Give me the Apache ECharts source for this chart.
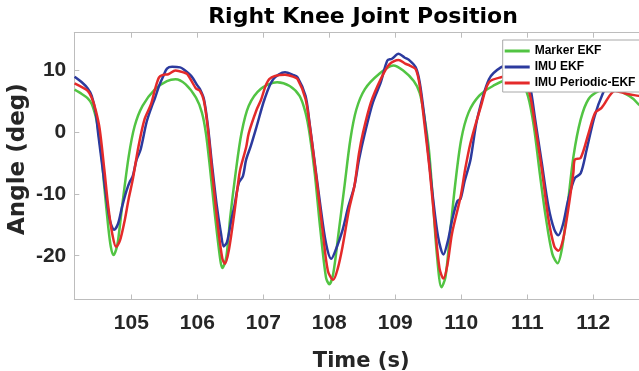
<!DOCTYPE html>
<html>
<head>
<meta charset="utf-8">
<script src="https://cdn.jsdelivr.net/npm/echarts@6/dist/echarts.min.js"></script>
<style>html,body{margin:0;padding:0;background:#fff}#c{width:639px;height:371px}</style>
</head>
<body>
<div id="c"></div>
<script>
// ---- data ----
const titleText = 'Right Knee Joint Position';
const xName = 'Time (s)';
const yName = 'Angle (deg)';
const seriesNames = ['Marker EKF', 'IMU EKF', 'IMU Periodic-EKF'];
const xRange = [104.136, 112.83];
const yRange = [-27.07, 16.0];

const markerT = [104.14,104.25,104.34,104.40,104.46,104.49,104.55,104.59,104.65,104.69,104.73,104.77,104.80,104.86,104.96,105.05,105.17,105.36,105.54,105.67,105.82,105.98,106.07,106.13,106.19,106.27,106.35,106.38,106.44,106.50,106.58,106.67,106.78,106.96,107.21,107.40,107.55,107.64,107.70,107.78,107.86,107.95,108.00,108.06,108.14,108.23,108.32,108.41,108.54,108.75,108.97,109.12,109.28,109.37,109.44,109.51,109.57,109.63,109.70,109.76,109.83,109.91,110.00,110.11,110.27,110.48,110.73,110.91,111.01,111.10,111.19,111.28,111.38,111.46,111.53,111.61,111.70,111.81,111.93,112.09,112.27,112.46,112.61,112.69,112.83];
const markerV = [6.8,6.1,5.4,4.5,2.5,0.9,-4.0,-8.8,-15.3,-18.6,-19.9,-19.0,-17.5,-12.1,-4.0,0.9,4.2,6.9,8.2,8.5,7.7,5.5,3.1,-0.2,-5.6,-13.7,-20.8,-22.0,-20.2,-13.7,-6.7,-0.2,4.2,6.9,8.0,7.4,5.8,3.1,-0.2,-6.7,-15.3,-23.5,-24.6,-22.9,-16.4,-8.8,-1.2,3.6,6.9,9.3,10.7,9.9,8.2,6.3,2.5,-2.9,-11.0,-19.7,-25.1,-23.5,-16.4,-8.3,-1.2,3.1,5.8,7.4,8.5,7.9,5.8,0.9,-6.7,-13.7,-19.7,-21.2,-18.6,-12.1,-4.0,2.0,5.3,6.6,7.0,6.3,5.3,4.4,3.5];

const imuT = [104.14,104.25,104.34,104.40,104.46,104.50,104.56,104.62,104.68,104.74,104.80,104.86,104.93,104.98,105.02,105.08,105.14,105.23,105.30,105.36,105.42,105.48,105.54,105.62,105.74,105.79,105.91,106.00,106.04,106.10,106.16,106.22,106.29,106.36,106.40,106.45,106.52,106.56,106.63,106.69,106.74,106.81,106.90,107.02,107.15,107.33,107.45,107.52,107.64,107.70,107.78,107.86,107.95,108.03,108.10,108.20,108.29,108.38,108.45,108.54,108.66,108.78,108.88,108.95,109.05,109.14,109.22,109.31,109.37,109.44,109.50,109.57,109.65,109.73,109.80,109.86,109.94,109.99,110.05,110.14,110.24,110.42,110.60,110.79,110.95,111.04,111.12,111.22,111.32,111.41,111.47,111.54,111.62,111.72,111.81,111.90,112.02,112.15,112.27,112.40,112.55,112.69,112.83];
const imuV = [8.9,8.0,7.0,5.8,3.1,-0.5,-5.5,-10.5,-14.5,-15.8,-14.8,-12.1,-9.4,-8.0,-7.2,-4.5,-2.9,1.5,3.8,5.5,7.4,8.9,10.2,10.5,10.4,10.1,9.0,7.5,6.9,5.3,1.0,-5.0,-11.5,-16.5,-18.5,-17.8,-14.0,-12.1,-8.2,-7.2,-4.5,-2.3,0.9,5.3,8.5,9.6,9.2,8.8,5.8,1.5,-5.0,-11.5,-18.0,-20.5,-19.0,-15.9,-12.0,-8.8,-4.5,-0.2,4.7,8.0,11.5,11.8,12.6,12.0,11.5,10.4,8.0,2.5,-3.5,-10.5,-17.0,-19.8,-17.5,-14.3,-11.2,-10.8,-8.0,-4.5,2.0,8.5,10.4,11.0,10.0,7.5,2.0,-5.0,-12.0,-15.8,-16.7,-15.0,-11.0,-7.5,-6.7,-2.9,2.5,6.3,8.5,9.5,9.8,9.5,9.2];

const perT = [104.14,104.25,104.34,104.40,104.46,104.52,104.59,104.65,104.71,104.77,104.83,104.90,104.96,105.02,105.11,105.20,105.30,105.36,105.42,105.48,105.56,105.67,105.79,105.85,105.98,106.04,106.10,106.16,106.23,106.31,106.38,106.42,106.48,106.56,106.61,106.65,106.74,106.78,106.90,106.96,107.09,107.33,107.45,107.52,107.64,107.71,107.80,107.90,107.98,108.06,108.13,108.20,108.30,108.38,108.45,108.51,108.63,108.78,108.91,109.05,109.15,109.22,109.31,109.37,109.44,109.52,109.60,109.67,109.73,109.79,109.86,109.99,110.06,110.14,110.30,110.42,110.60,110.80,110.95,111.04,111.12,111.22,111.32,111.41,111.47,111.54,111.62,111.70,111.72,111.81,111.93,112.03,112.12,112.15,112.33,112.52,112.69,112.83];
const perV = [7.8,7.2,6.6,5.5,3.5,0.5,-6.0,-12.0,-16.4,-18.6,-17.5,-14.3,-10.8,-7.8,-2.3,2.0,4.5,6.9,8.8,9.2,9.3,9.9,9.6,9.3,7.0,6.6,5.0,0.5,-7.0,-15.0,-20.5,-21.3,-19.0,-13.2,-9.0,-6.1,-2.5,-0.2,3.6,5.0,8.5,9.2,8.9,8.5,5.3,0.5,-7.0,-16.0,-22.5,-23.9,-22.0,-18.6,-12.5,-8.8,-3.5,-0.2,4.7,8.5,10.9,11.6,11.0,10.7,10.1,7.5,1.5,-6.0,-15.0,-22.0,-23.7,-21.5,-16.4,-10.5,-6.0,-1.8,4.2,8.0,8.8,9.0,8.2,6.0,1.0,-6.0,-14.0,-18.5,-19.2,-17.5,-12.6,-6.5,-4.5,-4.2,-0.2,3.1,3.8,4.2,6.6,6.1,5.8,5.5];

const colors = ['#52C443', '#2C3A9E', '#E42A2A'];

function pairs(t, v) { return t.map((x, i) => [x, v[i]]); }

const chart = echarts.init(document.getElementById('c'), null, {renderer: 'canvas'});
const axisGrey = '#BDBDBD';
const tickFont = 'Liberation Sans, Arial, sans-serif';
const nameFont = 'DejaVu Sans, sans-serif';

const xCommon = {
  type: 'value', min: xRange[0], max: xRange[1], splitNumber: 8, minInterval: 1, maxInterval: 1,
  axisLine: {show: true, onZero: false, lineStyle: {color: axisGrey, width: 1}},
  axisTick: {show: true, inside: true, length: 5, lineStyle: {color: axisGrey}},
  splitLine: {show: false}
};
const yCommon = {
  type: 'value', min: yRange[0], max: yRange[1], minInterval: 10, maxInterval: 10, splitNumber: 4,
  axisLine: {show: true, onZero: false, lineStyle: {color: axisGrey, width: 1}},
  axisTick: {show: true, inside: true, length: 5, lineStyle: {color: axisGrey}},
  splitLine: {show: false}
};

chart.setOption({
  animation: false,
  backgroundColor: '#fff',
  color: colors,
  title: {
    text: titleText, left: 358, top: 1, textAlign: 'center',
    textStyle: {fontFamily: nameFont, fontWeight: 'bold', fontSize: 22, color: '#000'}
  },
  grid: {left: 74.3, right: -9, top: 32.7, bottom: 71.5, containLabel: false, outerBoundsMode: 'none'},
  legend: {
    orient: 'vertical', left: 502.7, top: 40,
    padding: [4, 8, 2, 2], itemGap: 2, itemWidth: 25, itemHeight: 3, icon: 'rect',
    backgroundColor: '#fff', borderColor: '#A8A8A8', borderWidth: 1, z: 10,
    textStyle: {fontFamily: tickFont, fontWeight: 'bold', fontSize: 12, lineHeight: 14, color: '#000'},
    data: seriesNames
  },
  xAxis: [
    Object.assign({}, xCommon, {
      position: 'bottom', name: xName, nameLocation: 'middle', nameGap: 52, nameMoveOverlap: false,
      nameTextStyle: {fontFamily: nameFont, fontWeight: 'bold', fontSize: 21, color: '#262626'},
      axisLabel: {show: true, margin: 13, showMinLabel: false, showMaxLabel: false,
        fontFamily: tickFont, fontWeight: 'bold', fontSize: 21, color: '#262626'}
    }),
    Object.assign({}, xCommon, {position: 'top', axisLabel: {show: false}})
  ],
  yAxis: [
    Object.assign({}, yCommon, {
      position: 'left', name: yName, nameLocation: 'middle', nameGap: 45, nameMoveOverlap: false,
      nameTextStyle: {fontFamily: nameFont, fontWeight: 'bold', fontSize: 23, color: '#262626', padding: [0, 0, 0, 14]},
      axisLabel: {show: true, margin: 8, showMinLabel: false, showMaxLabel: false,
        fontFamily: tickFont, fontWeight: 'bold', fontSize: 21, color: '#262626'}
    }),
    Object.assign({}, yCommon, {position: 'right', axisLabel: {show: false}})
  ],
  series: [
    {name: seriesNames[0], type: 'line', data: pairs(markerT, markerV), showSymbol: false, symbol: 'none', smooth: 0.3, lineStyle: {width: 2.5, color: colors[0]}, itemStyle: {color: colors[0]}, clip: true},
    {name: seriesNames[1], type: 'line', data: pairs(imuT, imuV), showSymbol: false, symbol: 'none', smooth: 0.3, lineStyle: {width: 2.5, color: colors[1]}, itemStyle: {color: colors[1]}, clip: true},
    {name: seriesNames[2], type: 'line', data: pairs(perT, perV), showSymbol: false, symbol: 'none', smooth: 0.3, lineStyle: {width: 2.5, color: colors[2]}, itemStyle: {color: colors[2]}, clip: true}
  ]
});
</script>
</body>
</html>
